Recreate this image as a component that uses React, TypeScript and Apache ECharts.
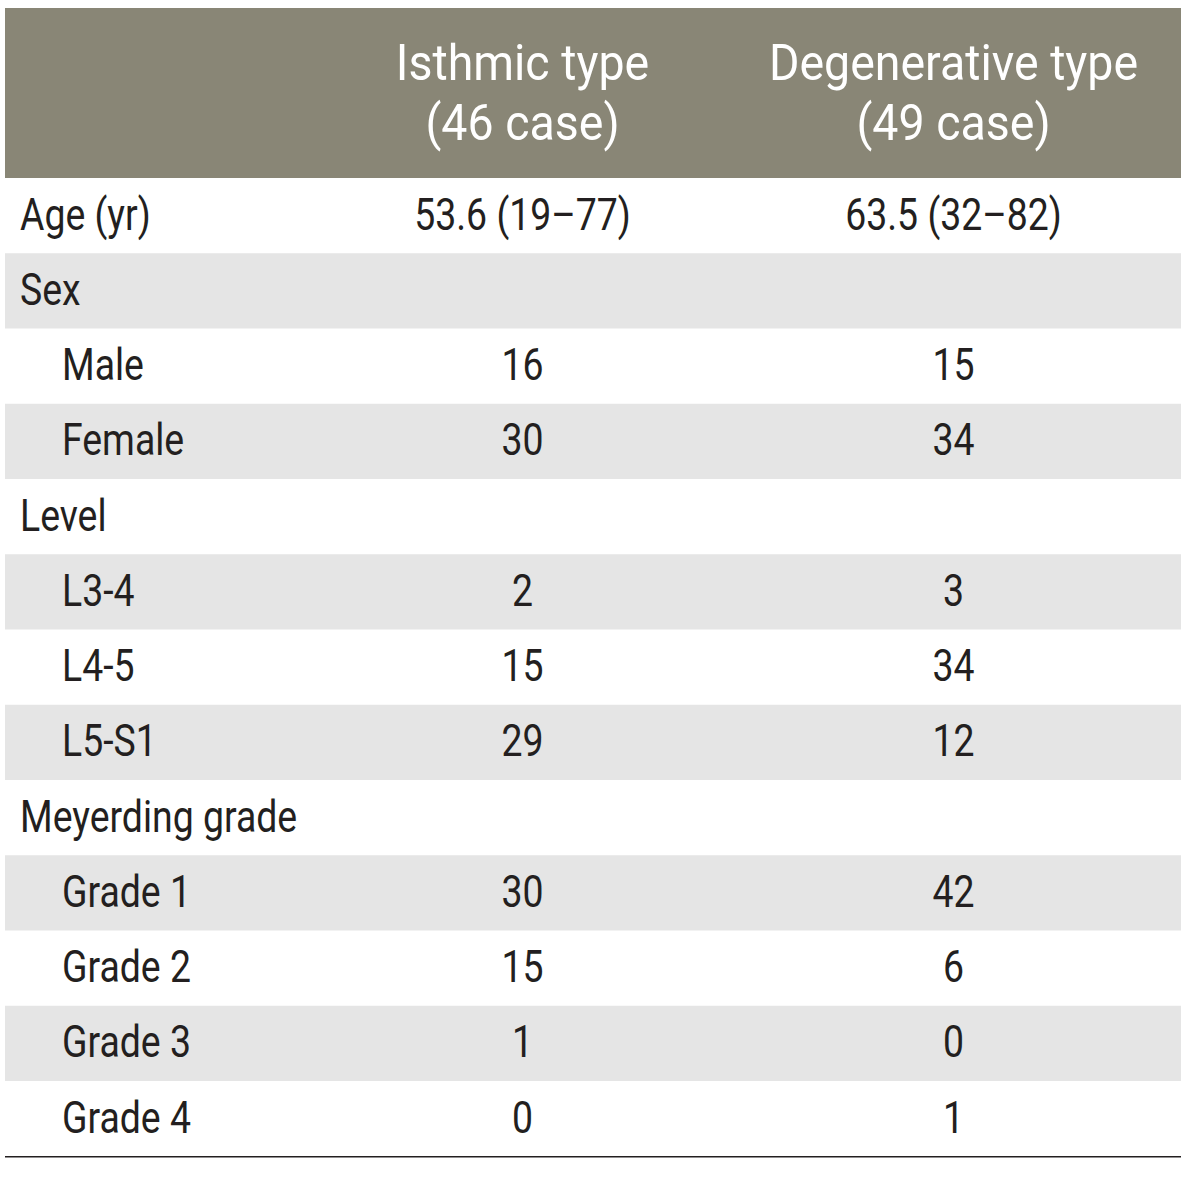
import React, { useEffect, useRef } from "react";
import * as echarts from "echarts";

const headers: string[][] = [
  ["Isthmic type", "(46 case)"],
  ["Degenerative type", "(49 case)"],
];
const rowLabels: string[] = [
  "Age (yr)", "Sex", "Male", "Female", "Level", "L3-4", "L4-5", "L5-S1",
  "Meyerding grade", "Grade 1", "Grade 2", "Grade 3", "Grade 4",
];
const rowIndent: boolean[] = [
  false, false, true, true, false, true, true, true, false, true, true, true, true,
];
const isthmicValues: string[] = [
  "53.6 (19\u201377)", "", "16", "30", "", "2", "15", "29", "", "30", "15", "1", "0",
];
const degenerativeValues: string[] = [
  "63.5 (32\u201382)", "", "15", "34", "", "3", "34", "12", "", "42", "6", "0", "1",
];

const FONT = "Roboto, sans-serif";

export default function App() {
  const ref = useRef<HTMLDivElement>(null);
  useEffect(() => {
    if (!ref.current) return;
    const chart = echarts.init(ref.current, undefined, { renderer: "svg" });
    const left = 5;
    const right = 1181;
    const top = 8;
    const headerH = 170;
    const rowH = 75.25;
    const colX = [522.5, 953.5];
    const bodySX = 0.85;
    const headSX = 0.93;
    const elements: any[] = [];
    elements.push({
      type: "rect",
      shape: { x: left, y: top, width: right - left, height: headerH },
      style: { fill: "#898676" },
    });
    headers.forEach((lines, c) => {
      lines.forEach((t, li) => {
        elements.push({
          type: "text",
          x: colX[c],
          y: top + 55 + li * 60,
          scaleX: headSX,
          style: {
            text: t,
            fill: "#ffffff",
            font: `50px ${FONT}`,
            align: "center",
            verticalAlign: "middle",
          },
        });
      });
    });
    rowLabels.forEach((label, i) => {
      const y0 = top + headerH + i * rowH;
      if (i % 2 === 1) {
        elements.push({
          type: "rect",
          shape: { x: left, y: y0, width: right - left, height: rowH },
          style: { fill: "#e5e5e5" },
        });
      }
      const cy = y0 + rowH / 2 - 1;
      elements.push({
        type: "text",
        x: rowIndent[i] ? 62 : 20,
        y: cy,
        scaleX: bodySX,
        style: { text: label, fill: "#231f20", font: `44px ${FONT}`, align: "left", verticalAlign: "middle" },
      });
      [isthmicValues[i], degenerativeValues[i]].forEach((v, c) => {
        if (!v) return;
        elements.push({
          type: "text",
          x: colX[c],
          y: cy,
          scaleX: bodySX,
          style: { text: v, fill: "#231f20", font: `44px ${FONT}`, align: "center", verticalAlign: "middle" },
        });
      });
    });
    const bottomY = top + headerH + rowLabels.length * rowH + 0.5;
    elements.push({
      type: "line",
      shape: { x1: left, y1: bottomY, x2: right, y2: bottomY },
      style: { stroke: "#231f20", lineWidth: 1.5 },
    });
    chart.setOption({ animation: false, graphic: { elements } });
    return () => chart.dispose();
  }, []);
  return (
    <div
      ref={ref}
      style={{ position: "absolute", left: 0, top: 0, width: 1200, height: 1182 }}
    />
  );
}
